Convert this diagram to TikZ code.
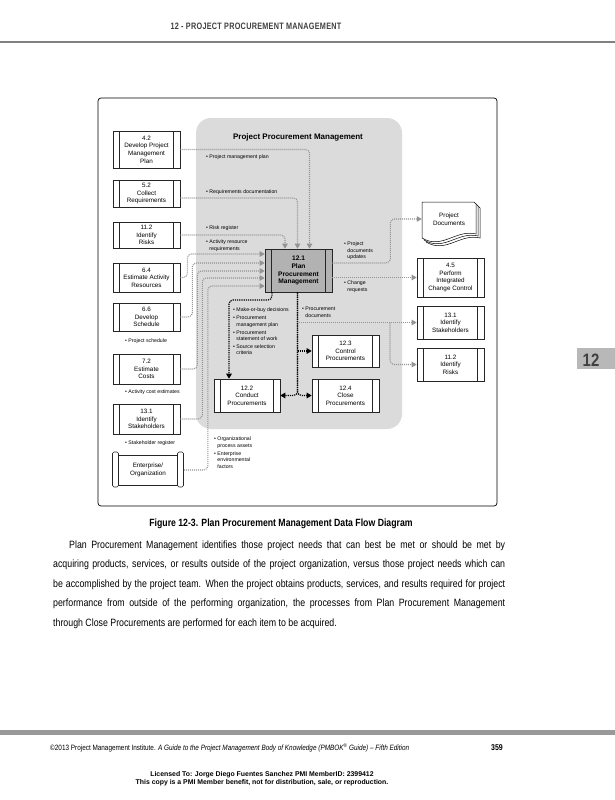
\documentclass[tikz,border=0pt]{standalone}
\usepackage{fontspec}
\setmainfont{Liberation Sans}
\newfontfamily\condfont{Liberation Sans}[FakeStretch=0.83]
\newfontfamily\headfont{Liberation Sans}[FakeStretch=0.78,LetterSpace=3]
\usetikzlibrary{arrows.meta,calc}
\definecolor{flowgray}{gray}{0.58}
\definecolor{regiongray}{gray}{0.86}
\definecolor{boxgray}{gray}{0.70}
\definecolor{textgray}{gray}{0.25}
\tikzset{
  procbox/.style={draw=black!85, fill=white, line width=0.6pt, minimum width=67pt,
    inner sep=0pt, align=center, font=\fontsize{6.3}{7.6}\selectfont,
    path picture={\draw[line width=0.5pt,black!85]
      ([xshift=6.5pt]path picture bounding box.north west) -- ([xshift=6.5pt]path picture bounding box.south west)
      ([xshift=-6.5pt]path picture bounding box.north east) -- ([xshift=-6.5pt]path picture bounding box.south east);}},
  gflow/.style={draw=flowgray, line width=1.05pt, dash pattern=on 1pt off 1pt, rounded corners=4pt,
    -{Triangle[length=5pt,width=5.5pt]}},
  bflow/.style={draw=black, line width=1.2pt, dash pattern=on 1.2pt off 1pt, rounded corners=4pt,
    -{Triangle[length=5pt,width=5.5pt]}},
  lbl/.style={anchor=north west, inner sep=0pt, align=left, font=\fontsize{5.2}{6.4}\selectfont},
  strip/.style={draw=black!85, fill=white, line width=0.6pt, rounded corners=1.5pt},
}
\newcommand{\bl}{\textbullet\ }
\newcommand{\hg}{\phantom{\textbullet\ }}
\begin{document}
\begin{tikzpicture}[x=1pt,y=-1pt]
\useasboundingbox (0,0) rectangle (615,800);
\fill[white] (0,0) rectangle (615,800);

% header
\node[font=\headfont\bfseries\fontsize{9.3}{10}\selectfont, text=textgray, anchor=base, inner sep=0] (head) at (256,29.5) {12 - PROJECT PROCUREMENT MANAGEMENT};
\draw[line width=1.8pt, black!50] (0,42) -- (615,42);

% side tab
\fill[black!28] (577,348) rectangle (615,369);
\node[font=\condfont\bfseries\fontsize{18}{18}\selectfont, text=textgray, anchor=base, inner sep=0] (tab) at (591,366) {12};

% frame and region
\draw[line width=0.7pt, rounded corners=3pt] (98,98) rectangle (497,506);
\fill[regiongray, rounded corners=15pt] (196,118) rectangle (402,429);
\node[font=\bfseries\fontsize{8}{9}\selectfont, inner sep=0] (title) at (298,137) {Project Procurement Management};

% left process boxes
\node[procbox, minimum height=37pt] (n42) at (146.5,149.5) {4.2\\Develop Project\\Management\\Plan};
\node[procbox, minimum height=27pt] (n52) at (146.5,193.5) {5.2\\Collect\\Requirements};
\node[procbox, minimum height=26pt] (n112) at (146.5,235) {11.2\\Identify\\Risks};
\node[procbox, minimum height=29pt] (n64) at (146.5,277.5) {6.4\\Estimate Activity\\Resources};
\node[procbox, minimum height=28pt] (n66) at (146.5,317) {6.6\\Develop\\Schedule};
\node[procbox, minimum height=30pt] (n72) at (146.5,369) {7.2\\Estimate\\Costs};
\node[procbox, minimum height=30pt] (n131) at (146.5,419) {13.1\\Identify\\Stakeholders};
\node[draw=black!85, fill=white, line width=0.6pt, minimum width=59pt, minimum height=30pt, inner sep=0pt,
  align=center, font=\fontsize{6.3}{7.6}\selectfont] (ent) at (148,470) {Enterprise/\\Organization};
\draw[strip] (112.5,452) rectangle (118.5,487);
\draw[strip] (177.5,452) rectangle (183.5,487);

% central process
\node[procbox, fill=boxgray, minimum height=43pt, font=\bfseries\fontsize{6.6}{7.8}\selectfont] (p121) at (298.5,270.5) {12.1\\Plan\\Procurement\\Management};
\node[procbox, minimum width=66pt, minimum height=33pt] (n122) at (247,395.5) {12.2\\Conduct\\Procurements};
\node[procbox, minimum height=32pt] (n123) at (345.5,351) {12.3\\Control\\Procurements};
\node[procbox, minimum height=33pt] (n124) at (345.5,395.5) {12.4\\Close\\Procurements};

% right boxes
\node[procbox, minimum height=39pt] (n45) at (450.5,277.5) {4.5\\Perform\\Integrated\\Change Control};
\node[procbox, minimum height=33pt] (n131r) at (450.5,322.5) {13.1\\Identify\\Stakeholders};
\node[procbox, minimum height=33pt] (n112r) at (450.5,364.5) {11.2\\Identify\\Risks};

% project documents stack
\foreach \d in {4,2,0}{
  \begin{scope}[shift={(\d,\d)}]
    \draw[line width=0.5pt, fill=white] (422,202) -- (474,202) -- (476,204) -- (476,234)
      .. controls (456,229) and (442,250) .. (422,238) -- cycle;
  \end{scope}
}
\node[inner sep=0pt, align=center, minimum width=54pt, minimum height=20pt, font=\fontsize{6.3}{7.6}\selectfont] (pdocs) at (449,219) {Project\\Documents};

% labels
\node[lbl] (l1) at (206,155) {\bl Project management plan};
\node[lbl] (l2) at (206,190) {\bl Requirements documentation};
\node[lbl] (l3) at (206,226) {\bl Risk register};
\node[lbl] (l4) at (206,240) {\bl Activity resource\\\hg requirements};
\node[lbl] (l5) at (125,339) {\bl Project schedule};
\node[lbl] (l6) at (125,390) {\bl Activity cost estimates};
\node[lbl] (l7) at (125,441) {\bl Stakeholder register};
\node[lbl] (l8) at (214,437) {\bl Organizational\\\hg process assets\\[1.5pt]\bl Enterprise\\\hg environmental\\\hg factors};
\node[lbl] (l9) at (233,308) {\bl Make-or-buy decisions\\[1.5pt]\bl Procurement\\\hg management plan\\[1.5pt]\bl Procurement\\\hg statement of work\\[1.5pt]\bl Source selection\\\hg criteria};
\node[lbl] (l10) at (302,307) {\bl Procurement\\\hg documents};
\node[lbl] (l11) at (344,242) {\bl Project\\\hg documents\\\hg updates};
\node[lbl] (l12) at (344,281) {\bl Change\\\hg requests};

% inputs from the top
\draw[gflow] (n42.east) -| ([xshift=11pt]p121.north);
\draw[gflow] ([yshift=-4.5pt]n52.east) -| ([xshift=-1pt]p121.north);
\draw[gflow] (n112.east) -| ([xshift=-13.5pt]p121.north);
% inputs from the left
\draw[gflow] (n64.east) -- ++(7,0) |- ([yshift=16.5pt]p121.west);
\draw[gflow] (n66.east) -- ++(12,0) |- ([yshift=7.5pt]p121.west);
\draw[gflow] (n72.east) -- ++(17,0) |- ([yshift=-0.5pt]p121.west);
\draw[gflow] (n131.east) -- ++(22,0) |- ([yshift=-7.5pt]p121.west);
\draw[gflow] ([xshift=6pt]ent.east) -- ++(24,0) |- ([yshift=-15.5pt]p121.west);

% outputs
\draw[gflow] ([yshift=7.5pt]p121.east) -- ++(58,0) |- (pdocs.west);
\draw[gflow] (p121.east |- n45.west) -- (n45.west);
\coordinate (pd) at (299,322.5);
\coordinate (pdb) at (390,322.5);
\draw[gflow] (pd) -- (n131r.west);
\draw[gflow] (pdb) |- (n112r.west);

% internal flows
\coordinate (vx) at ([xshift=-1pt]p121.south);
\draw[bflow] (vx) |- (n122.east);
\draw[bflow] (vx) |- (n124.west);
\draw[bflow] (vx |- n123.west) -- (n123.west);
\coordinate (c1) at (229,300);
\draw[bflow] ([xshift=-26.5pt]p121.south) |- (c1) -- (c1 |- n122.north);

% caption and paragraph
\node[font=\condfont\bfseries\fontsize{10.5}{12}\selectfont, anchor=base, inner sep=0] (cap) at (281,526) {Figure 12-3. Plan Procurement Management Data Flow Diagram};
\node[anchor=base west, inner sep=0pt, text width=452pt, align=justify, font=\condfont\fontsize{10.6}{19.5}\selectfont] (para) at (53,548)
{\hspace*{16pt}Plan Procurement Management identifies those project needs that can best be met or should be met by\linebreak
acquiring products, services, or results outside of the project organization, versus those project needs which can\linebreak
be accomplished by the project team. When the project obtains products, services, and results required for project\linebreak
performance from outside of the performing organization, the processes from Plan Procurement Management\linebreak
through Close Procurements are performed for each item to be acquired.};

% footer
\draw[line width=5pt, black!40] (0,732.5) -- (615,732.5);
\node[anchor=base west, inner sep=0, font=\condfont\fontsize{7.7}{9}\selectfont] (foot) at (50,750)
{©2013 Project Management Institute. \textit{A Guide to the Project Management Body of Knowledge (PMBOK\textsuperscript{®} Guide) – Fifth Edition}};
\node[anchor=base east, inner sep=0, font=\condfont\bfseries\fontsize{8.4}{9}\selectfont] (pg) at (503,750) {359};
\node[anchor=base, inner sep=0, align=center, font=\bfseries\fontsize{6.9}{6.3}\selectfont] (lic) at (262,784)
{Licensed To: Jorge Diego Fuentes Sanchez PMI MemberID: 2399412\\This copy is a PMI Member benefit, not for distribution, sale, or reproduction.};
\end{tikzpicture}
\end{document}
